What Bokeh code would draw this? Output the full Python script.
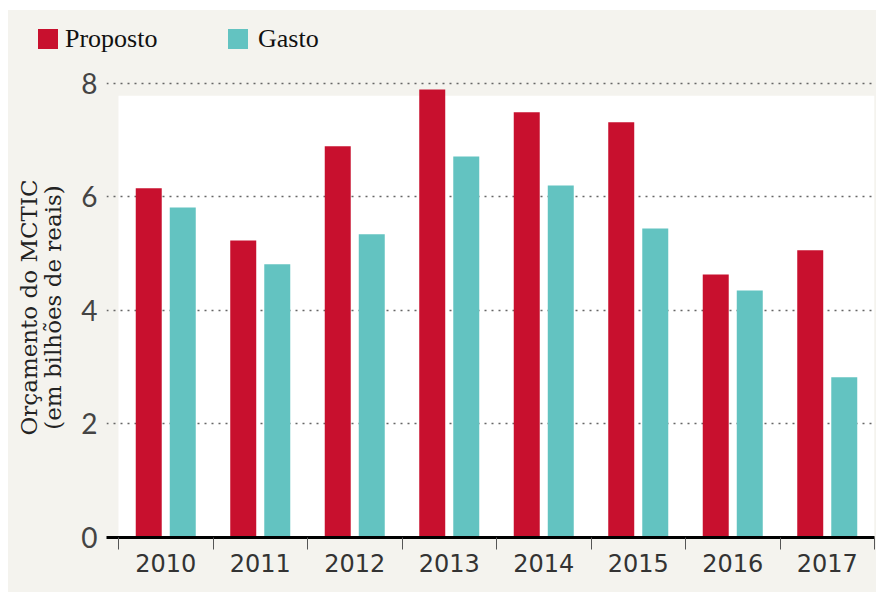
from bokeh.plotting import figure
from bokeh.layouts import column
from bokeh.models import ColumnDataSource, FixedTicker, Range1d, BoxAnnotation, Div
from bokeh.transform import dodge
from bokeh.embed import file_html
from bokeh.resources import INLINE

years = ["2010", "2011", "2012", "2013", "2014", "2015", "2016", "2017"]
proposto = [6.15, 5.23, 6.89, 7.89, 7.49, 7.31, 4.63, 5.06]
gasto = [5.81, 4.81, 5.34, 6.71, 6.20, 5.44, 4.35, 2.82]
y_ticks = [0, 2, 4, 6, 8]
series_names = ["Proposto", "Gasto"]

RED = "#c8102e"
TEAL = "#63c3c1"
BG = "#f4f3ee"

idx = list(range(len(years)))
source = ColumnDataSource(data=dict(x=idx, year=years, proposto=proposto, gasto=gasto))

# ---- legend strip ----
swatch_lefts = [30, 220]
text_lefts = [57, 250]
legend_html = ""
for name, color, sx, tx in zip(series_names, [RED, TEAL], swatch_lefts, text_lefts):
    legend_html += (f'<span style="position:absolute;left:{sx}px;top:19px;width:20px;height:20px;'
                    f'background:{color};"></span>'
                    f'<span style="position:absolute;left:{tx}px;top:16px;line-height:26px;'
                    f'font-family:\'Liberation Serif\';font-size:26px;color:#111111;white-space:nowrap;">{name}</span>')
lg = Div(text=f'<div style="position:relative;width:868px;height:56px;">{legend_html}</div>',
         width=868, height=56, styles={"background-color": BG, "margin": "0", "padding": "0"})

# ---- main chart ----
p = figure(width=868, height=526, output_backend="svg", toolbar_location=None,
           x_range=Range1d(-0.627, len(years) - 0.5), y_range=Range1d(0, 8.1),
           min_border_left=98, min_border_top=11, min_border_right=2, min_border_bottom=55)
p.background_fill_color = BG
p.border_fill_color = BG
p.outline_line_color = None

p.add_layout(BoxAnnotation(left=-0.5, right=len(years) - 0.5, bottom=0, top=7.78,
                           fill_color="white", fill_alpha=1, line_color=None, level="image"))

p.vbar(x=dodge("x", -0.18, range=p.x_range), top="proposto", width=0.275,
       source=source, fill_color=RED, line_color=None)
p.vbar(x=dodge("x", 0.18, range=p.x_range), top="gasto", width=0.275,
       source=source, fill_color=TEAL, line_color=None)

# x axis
p.xaxis.ticker = FixedTicker(ticks=idx, minor_ticks=[i - 0.5 for i in idx] + [len(idx) - 0.5])
p.xaxis.major_label_overrides = {i: y for i, y in zip(idx, years)}
p.xaxis.major_tick_out = 0
p.xaxis.major_tick_in = 0
p.xaxis.minor_tick_out = 12
p.xaxis.minor_tick_in = 0
p.xaxis.minor_tick_line_color = "#555555"
p.xaxis.minor_tick_line_width = 1
p.xaxis.axis_line_color = "black"
p.xaxis.axis_line_width = 3
p.xaxis.major_label_text_font = "DejaVu Sans"
p.xaxis.major_label_text_font_size = "24px"
p.xaxis.major_label_text_color = "#333333"
p.xaxis.major_label_standoff = 4

# y axis
p.yaxis.ticker = FixedTicker(ticks=y_ticks)
p.yaxis.axis_line_color = None
p.yaxis.major_tick_line_color = None
p.yaxis.minor_tick_line_color = None
p.yaxis.major_label_text_font = "Lato"
p.yaxis.major_label_text_font_size = "28px"
p.yaxis.major_label_text_color = "#444444"
p.yaxis.major_label_standoff = 3
p.yaxis.axis_label = "Orçamento do MCTIC\n(em bilhões de reais)"
p.yaxis.axis_label_text_font = "DejaVu Serif"
p.yaxis.axis_label_text_font_size = "23px"
p.yaxis.axis_label_text_font_style = "normal"
p.yaxis.axis_label_text_color = "#222222"
p.yaxis.axis_label_text_line_height = 0.95
p.yaxis.axis_label_standoff = 12

p.xgrid.grid_line_color = None
p.ygrid.ticker = FixedTicker(ticks=[2, 4, 6, 8])
p.ygrid.grid_line_color = "#666666"
p.ygrid.grid_line_width = 1.6
p.ygrid.grid_line_dash = "2 5"

layout = column(lg, p, spacing=0, margin=(10, 0, 0, 8), styles={"background-color": BG})

open("out.html", "w").write(file_html(layout, INLINE))
